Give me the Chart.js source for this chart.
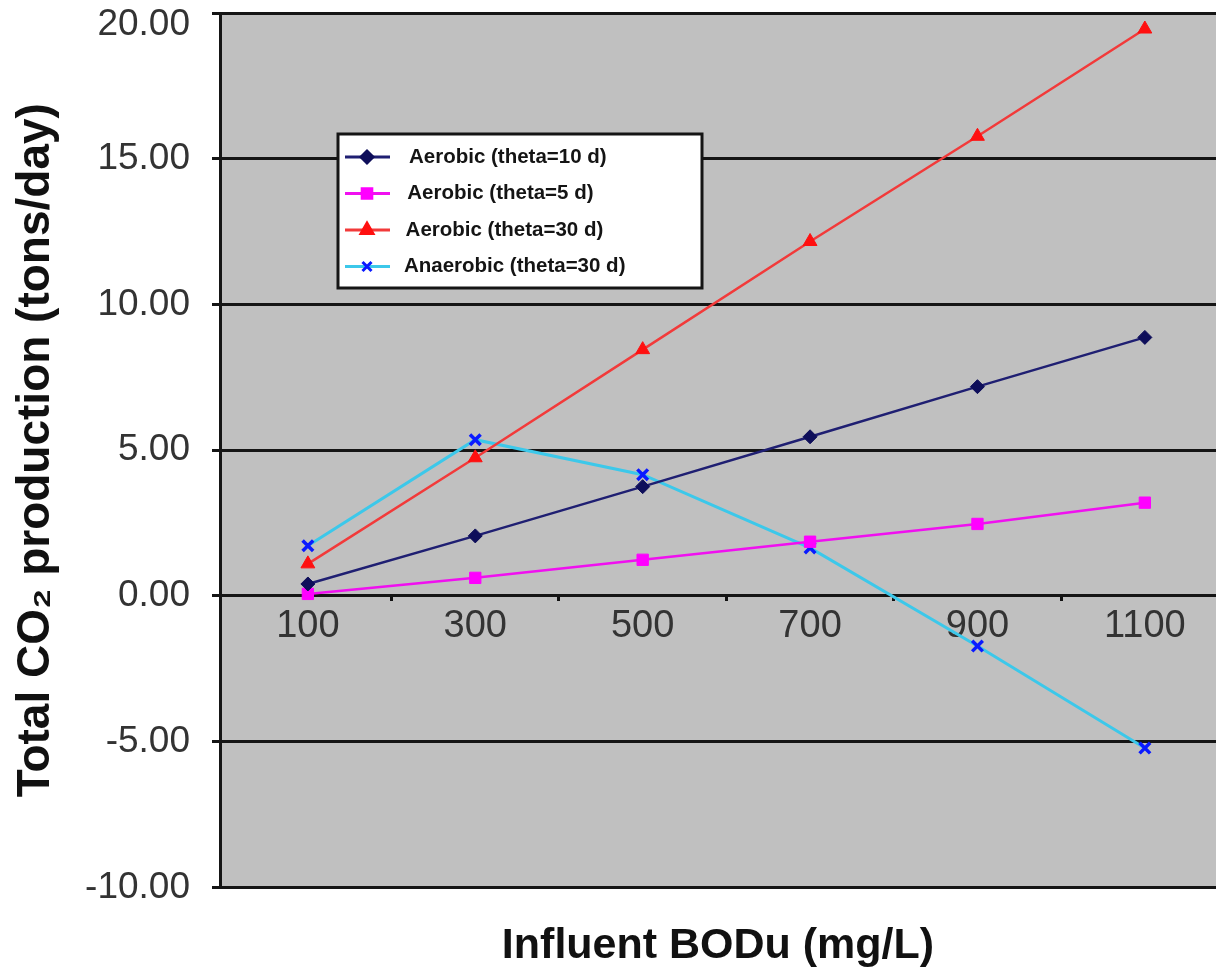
<!DOCTYPE html>
<html>
<head>
<meta charset="utf-8">
<script src="https://cdn.jsdelivr.net/npm/chart.js@4.4.0/dist/chart.umd.min.js"></script>
<style>
  html, body { margin: 0; padding: 0; background: #fff; overflow: hidden; }
</style>
</head>
<body>
<canvas id="co2Chart" width="1216" height="972"></canvas>
<script>
// Influent BODu categories (mg/L)
const bodLevels = [100, 300, 500, 700, 900, 1100];
const minorTicks = [200, 400, 600, 800, 1000];

// Total CO2 production (tons/day)
const aerobic10 = [0.41, 2.06, 3.75, 5.46, 7.18, 8.87];
const aerobic5 = [0.07, 0.62, 1.24, 1.86, 2.47, 3.20];
const aerobic30 = [1.10, 4.74, 8.45, 12.16, 15.77, 19.45];
const anaerobic30 = [1.72, 5.36, 4.16, 1.65, -1.72, -5.22];

const yTicks = [-10, -5, 0, 5, 10, 15, 20];

const toPoints = (vals) => bodLevels.map((x, i) => ({ x: x, y: vals[i] }));

const noPadding = (scale) => {
    scale.paddingLeft = 0;
    scale.paddingRight = 0;
};

// gray plot background
const plotBackground = {
    id: 'plotBackground',
    beforeDraw(chart) {
        const { ctx, chartArea } = chart;
        ctx.save();
        ctx.fillStyle = '#c0c0c0';
        ctx.fillRect(chartArea.left, chartArea.top, chartArea.right - chartArea.left, chartArea.bottom - chartArea.top);
        ctx.restore();
    }
};

// boxed legend sitting inside the plot
const legendBox = {
    id: 'legendBox',
    afterDatasetsDraw(chart) {
        const ctx = chart.ctx;
        ctx.save();
        ctx.fillStyle = '#ffffff';
        ctx.fillRect(338, 134, 364, 154);
        ctx.lineWidth = 3;
        ctx.strokeStyle = '#151515';
        ctx.strokeRect(338, 134, 364, 154);
        chart.data.datasets.forEach((ds, i) => {
            const y = 157 + i * 36.5;
            ctx.strokeStyle = ds.borderColor;
            ctx.lineWidth = 3;
            ctx.beginPath();
            ctx.moveTo(345, y);
            ctx.lineTo(390, y);
            ctx.stroke();
            ctx.fillStyle = ds.pointBackgroundColor;
            ctx.strokeStyle = ds.pointBorderColor;
            Chart.helpers.drawPoint(ctx, {
                pointStyle: ds.pointStyle,
                radius: ds.pointRadius * 0.85,
                borderWidth: ds.pointBorderWidth,
                rotation: 0
            }, 367, y);
            ctx.fillStyle = '#141414';
            ctx.font = 'bold 20.5px "Liberation Sans", Arial, sans-serif';
            ctx.textBaseline = 'middle';
            ctx.fillText(ds.label, 409 - i * 1.7, y);
        });
        ctx.restore();
    }
};

const co2Ctx = document.getElementById('co2Chart').getContext('2d');
const co2Chart = new Chart(co2Ctx, {
    type: 'line',
    data: {
        datasets: [
            {
                label: 'Aerobic (theta=10 d)',
                data: toPoints(aerobic10),
                borderColor: '#1f1f72',
                borderWidth: 2.5,
                pointStyle: 'rectRot',
                pointRadius: 7,
                pointBackgroundColor: '#0e0e5a',
                pointBorderColor: '#0e0e5a',
                pointBorderWidth: 1
            },
            {
                label: 'Aerobic (theta=5 d)',
                data: toPoints(aerobic5),
                borderColor: '#f010f0',
                borderWidth: 2.5,
                pointStyle: 'rect',
                pointRadius: 8,
                pointBackgroundColor: '#ff00ff',
                pointBorderColor: '#ff00ff',
                pointBorderWidth: 1
            },
            {
                label: 'Aerobic (theta=30 d)',
                data: toPoints(aerobic30),
                borderColor: '#f23a3a',
                borderWidth: 2.5,
                pointStyle: 'triangle',
                pointRadius: 8,
                pointBackgroundColor: '#ff1010',
                pointBorderColor: '#ff1010',
                pointBorderWidth: 1
            },
            {
                label: 'Anaerobic (theta=30 d)',
                data: toPoints(anaerobic30),
                borderColor: '#3cc8ea',
                borderWidth: 3,
                pointStyle: 'crossRot',
                pointRadius: 7.5,
                pointBackgroundColor: '#0a1aff',
                pointBorderColor: '#0a1aff',
                pointBorderWidth: 3.5
            }
        ]
    },
    options: {
        responsive: false,
        animation: false,
        layout: { autoPadding: false, padding: { top: 13, left: 0, right: 0, bottom: 0 } },
        plugins: {
            legend: { display: false },
            tooltip: { enabled: false },
            title: {
                display: true,
                position: 'bottom',
                fullSize: false,
                text: 'Influent BODu (mg/L)',
                color: '#111',
                font: { family: '"Liberation Sans", Arial, sans-serif', size: 43, weight: 'bold', lineHeight: 1.2 },
                padding: { top: 33, bottom: 0 }
            }
        },
        scales: {
            x: {
                type: 'linear',
                position: { y: 0 },
                min: -5,
                max: 1185,
                afterBuildTicks: (scale) => { scale.ticks = bodLevels.map(v => ({ value: v })); },
                afterFit: noPadding,
                grid: { display: false },
                border: { display: false },
                ticks: {
                    color: '#333',
                    padding: 0,
                    maxRotation: 0,
                    callback: (v) => String(v),
                    font: { family: '"Liberation Sans", Arial, sans-serif', size: 38 }
                }
            },
            xMinor: {
                type: 'linear',
                axis: 'x',
                position: { y: 0 },
                min: -5,
                max: 1185,
                afterBuildTicks: (scale) => { scale.ticks = minorTicks.map(v => ({ value: v })); },
                afterFit: noPadding,
                grid: { drawOnChartArea: false, tickLength: 5, lineWidth: 3, color: '#111' },
                border: { display: false },
                ticks: { display: false }
            },
            y: {
                min: -10,
                max: 20,
                afterBuildTicks: (scale) => { scale.ticks = yTicks.map(v => ({ value: v })); },
                afterFit: (scale) => {
                    scale.width = 220;
                    scale.paddingTop = 0;
                    scale.paddingBottom = 0;
                },
                grid: { color: '#151515', lineWidth: 3, tickLength: 8 },
                border: { color: '#151515', width: 3 },
                ticks: {
                    color: '#333',
                    padding: 22,
                    // top label sits a little below its gridline, as in the source
                    callback: (v) => v === 20 ? ['', v.toFixed(2)] : v.toFixed(2),
                    font: (c) => ({
                        family: '"Liberation Sans", Arial, sans-serif',
                        size: 37,
                        lineHeight: c.tick && c.tick.value === 20 ? 0.65 : 1.2
                    })
                },
                title: {
                    display: true,
                    text: 'Total CO\u2082 production (tons/day)',
                    color: '#111',
                    font: { family: '"Liberation Sans", Arial, sans-serif', size: 46, weight: 'bold', lineHeight: 1 },
                    padding: { top: 13, bottom: 0 }
                }
            }
        }
    },
    plugins: [plotBackground, legendBox]
});
</script>
</body>
</html>
